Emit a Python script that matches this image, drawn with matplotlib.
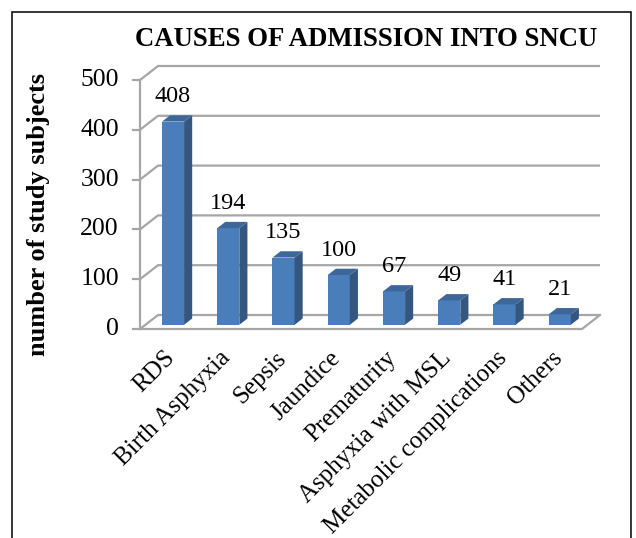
import matplotlib
matplotlib.use('Agg')
import matplotlib.pyplot as plt
from matplotlib.patches import Polygon, Rectangle

plt.rcParams['font.family'] = ['Liberation Serif', 'DejaVu Serif']

causes = ['RDS', 'Birth Asphyxia', 'Sepsis', 'Jaundice', 'Prematurity',
          'Asphyxia with MSL', 'Metabolic complications', 'Others']
subjects = [408, 194, 135, 100, 67, 49, 41, 21]
yticks = [0, 100, 200, 300, 400, 500]

# layout of the excel style pseudo-3d chart, in pixels
W, H = 636, 538
PX_CAT = 55.25     # px per category
PX_VAL = 0.498     # px per subject
X0, Y0 = 140, 329  # front-left floor corner

fig = plt.figure(figsize=(W / 100, H / 100), dpi=100)
ax = fig.add_axes([0, 0, 1, 1])
ax.set_xlim(-0.5 - X0 / PX_CAT, -0.5 + (W - X0) / PX_CAT)
ax.set_ylim(-(H - Y0) / PX_VAL, Y0 / PX_VAL)
ax.axis('off')

ddx = 18 / PX_CAT   # wall depth
ddy = 14 / PX_VAL
n = len(causes)
grid = '#a6a6a6'

# walls and floor
for v in yticks:
    ax.plot([-0.5, -0.5 + ddx, n - 0.5 + ddx], [v, v + ddy, v + ddy],
            color=grid, lw=1.6, solid_capstyle='butt', zorder=1)
    ax.plot([-0.5 - 7 / PX_CAT, -0.5], [v, v], color=grid, lw=1.6, zorder=1)
    ax.text(-0.5 - 21 / PX_CAT, v, str(v), ha='right', va='center', fontsize=18.5)
ax.plot([-0.5, -0.5], [0, yticks[-1]], color=grid, lw=1.6, zorder=1)
ax.plot([-0.5, n - 0.5, n - 0.5 + ddx], [0, 0, ddy], color=grid, lw=1.6, zorder=1)

# bars
bw = 0.4
f0 = 0.3   # depth where bar front sits
fd = 0.45  # bar depth
for i, v in enumerate(subjects):
    fx = i - bw / 2 + f0 * ddx
    by = f0 * ddy
    sx, sy = fd * ddx, fd * ddy
    ax.add_patch(Rectangle((fx, by), bw, v, facecolor='#4a7ebb', edgecolor='none', zorder=3))
    ax.add_patch(Polygon([(fx + bw, by), (fx + bw + sx, by + sy),
                          (fx + bw + sx, v + by + sy), (fx + bw, v + by)],
                         facecolor='#34567f', edgecolor='none', zorder=3))
    ax.add_patch(Polygon([(fx, v + by), (fx + bw, v + by),
                          (fx + bw + sx, v + by + sy), (fx + sx, v + by + sy)],
                         facecolor='#3d6799', edgecolor='none', zorder=3))
    ax.text(i + f0 * ddx, v + by + 50, str(v), ha='center', va='center', fontsize=17.5)
    ax.text(i + f0 * ddx - 9 / PX_CAT, -36, causes[i], rotation=45, ha='right', va='top',
            rotation_mode='anchor', fontsize=18)

fig.text(366 / W, 1 - 40 / H, 'CAUSES OF ADMISSION INTO SNCU', ha='center', va='center',
         fontsize=19.3, fontweight='bold')
fig.text(39 / W, 1 - 215 / H, 'number of study subjects', ha='center', va='center',
         rotation=90, fontsize=19, fontweight='bold')

fig.add_artist(Rectangle((12 / W, -0.1), (631 - 12) / W, 1.1 - 12 / H,
                         transform=fig.transFigure, fill=False, edgecolor='black', lw=1.1))

fig.savefig('out.png', dpi=100)
